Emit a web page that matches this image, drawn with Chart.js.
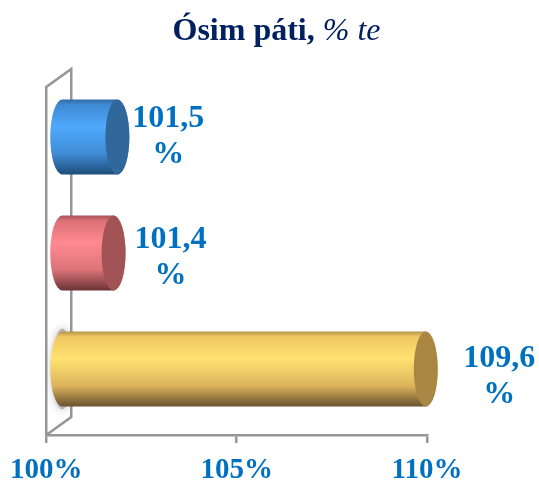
<!DOCTYPE html>
<html>
<head>
<meta charset="utf-8">
<title>Ósim páti</title>
<script src="https://cdn.jsdelivr.net/npm/chart.js@4"></script>
<style>
  body { margin: 0; background: #fff; }
  #wrap { position: relative; width: 539px; height: 480px; overflow: hidden; }
  #title { position: absolute; top: 11px; left: 0; width: 553px; text-align: center;
           font: bold 32px "Liberation Serif", serif; color: #002060; }
  #title i { font-weight: normal; }
  canvas { position: absolute; left: 0; top: 0; }
</style>
</head>
<body>
<div id="wrap">
  <canvas id="chart" width="539" height="480"></canvas>
  <div id="title">Ósim páti, <i>% te</i></div>
</div>
<script>
const categories = ['1. sorozat', '2. sorozat', '3. sorozat'];
const values = [101.5, 101.4, 109.6];
const valueLabels = ['101,5', '101,4', '109,6'];
const xTicks = [100, 105, 110];

// edge, top, middle, lower, bottom of the tube, then the end cap
const tubeColors = [
  ['#2f6aa3', '#3f8ad3', '#4fa9fc', '#3f8cd6', '#1f4c7a', '#31689c'],
  ['#a8525a', '#dc6f76', '#ff8a91', '#dc7479', '#6b3336', '#a25355'],
  ['#b8944a', '#f0c862', '#ffe271', '#ddb55c', '#695330', '#a98743']
];

const gray = '#969696';
const blue = '#0070c0';
const labelFont = 'bold 32px "Liberation Serif", serif';

// szoveg position relative to the end of each tube
const labelShift = [[39, -0.5], [45, 4.5], [61.5, 8]];

const walls = {
  id: 'walls',
  beforeDatasetsDraw(chart) {
    const { ctx, chartArea: a } = chart;
    const depth = 25, rise = 18;
    ctx.save();
    ctx.strokeStyle = gray;
    ctx.lineWidth = 2.5;
    ctx.beginPath();
    ctx.moveTo(a.left, a.bottom);
    ctx.lineTo(a.left, a.top);
    ctx.lineTo(a.left + depth, a.top - rise);
    ctx.lineTo(a.left + depth, a.bottom - rise);
    ctx.lineTo(a.left, a.bottom);
    ctx.stroke();
    ctx.restore();
  }
};

const cylinders = {
  id: 'cylinders',
  // the flat bars are replaced by tubes
  beforeDatasetDraw(chart, args) {
    const { ctx } = chart;
    const xScale = chart.scales.x;
    const rx = 12;
    args.meta.data.forEach((bar, i) => {
      const top = bar.y - bar.height / 2 - 8;
      const bottom = bar.y + bar.height / 2 - 8;
      const cy = (top + bottom) / 2;
      const ry = (bottom - top) / 2;
      const x0 = xScale.getPixelForValue(xTicks[0]) + 16;
      const x1 = bar.x + 14;
      const c = tubeColors[i];

      const g = ctx.createLinearGradient(0, top, 0, bottom);
      g.addColorStop(0, c[0]);
      g.addColorStop(0.07, c[1]);
      g.addColorStop(0.36, c[2]);
      g.addColorStop(0.72, c[3]);
      g.addColorStop(1, c[4]);

      // soft grey glow behind the long tube only
      if (i === 2) {
        ctx.save();
        ctx.shadowColor = 'rgba(110,110,110,0.8)';
        ctx.shadowBlur = 9;
        ctx.fillStyle = 'rgba(150,150,150,0.6)';
        ctx.beginPath();
        ctx.ellipse(x0, cy, rx - 2, ry + 3, 0, 0, Math.PI * 2);
        ctx.fill();
        ctx.restore();
      }

      ctx.fillStyle = g;
      ctx.beginPath();
      ctx.ellipse(x0, cy, rx, ry, 0, Math.PI / 2, Math.PI * 1.5);
      ctx.ellipse(x1, cy, rx, ry, 0, -Math.PI / 2, Math.PI / 2);
      ctx.closePath();
      ctx.fill();

      ctx.fillStyle = c[5];
      ctx.beginPath();
      ctx.ellipse(x1, cy, rx, ry, 0, 0, Math.PI * 2);
      ctx.fill();

      ctx.fillStyle = blue;
      ctx.font = labelFont;
      ctx.textAlign = 'center';
      ctx.textBaseline = 'middle';
      const lx = x1 + rx + labelShift[i][0];
      const ly = cy + labelShift[i][1];
      ctx.fillText(valueLabels[i], lx, ly - 18);
      ctx.fillText('%', lx, ly + 18);
    });
    return false;
  }
};

new Chart(document.getElementById('chart'), {
  type: 'bar',
  data: {
    labels: categories,
    datasets: [{
      data: values,
      base: xTicks[0],
      backgroundColor: tubeColors.map(c => c[2]),
      barPercentage: 0.645,
      categoryPercentage: 1
    }]
  },
  options: {
    indexAxis: 'y',
    responsive: false,
    animation: false,
    layout: { padding: { left: 46, right: 112, top: 87, bottom: 0 } },
    plugins: { legend: { display: false }, tooltip: { enabled: false } },
    scales: {
      x: {
        min: xTicks[0],
        max: xTicks[2],
        afterFit(scale) { scale.height = 45; },
        afterBuildTicks(scale) { scale.ticks = xTicks.map(v => ({ value: v })); },
        border: { color: gray, width: 2.5 },
        grid: { drawOnChartArea: false, color: gray, lineWidth: 2.5, tickLength: 8 },
        ticks: {
          color: blue,
          padding: 10,
          maxRotation: 0,
          font: { family: '"Liberation Serif", serif', weight: 'bold', size: 29 },
          callback: v => v + '%'
        }
      },
      y: { display: false }
    }
  },
  plugins: [walls, cylinders]
});
</script>
</body>
</html>
